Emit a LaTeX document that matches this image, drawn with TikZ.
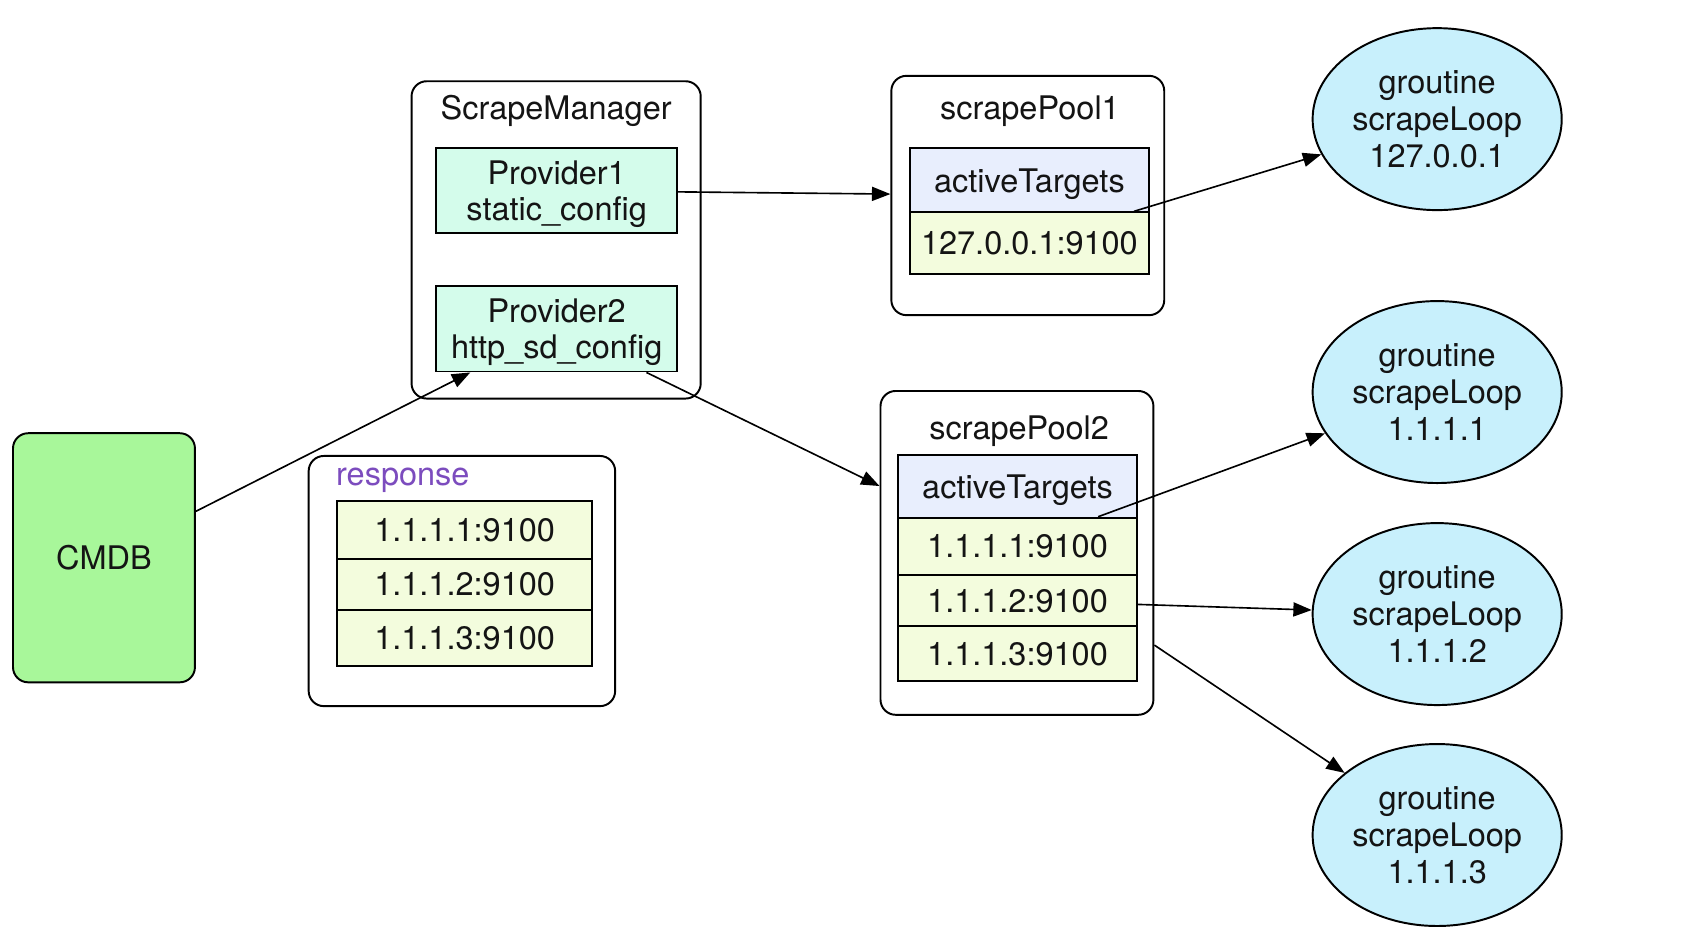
\documentclass[tikz,border=0pt]{standalone}
\usepackage{fontspec}
\setmainfont{TeX Gyre Heros}
\usetikzlibrary{arrows.meta,shapes.geometric}
\definecolor{cmdbgreen}{RGB}{168,247,154}
\definecolor{provfill}{RGB}{212,252,235}
\definecolor{atfill}{RGB}{232,238,253}
\definecolor{ipfill}{RGB}{243,252,221}
\definecolor{ellfill}{RGB}{200,240,252}
\definecolor{resppurple}{RGB}{124,76,190}
\definecolor{txt}{RGB}{20,20,20}
\tikzset{
  every node/.style={font=\fontsize{15}{17}\selectfont, text=txt},
  container/.style={draw, line width=0.9pt, rounded corners=7pt, inner sep=0pt, fill=white},
  cmdbbox/.style={draw, line width=0.9pt, rounded corners=7pt, fill=cmdbgreen, inner sep=0pt, minimum width=84pt, minimum height=115pt},
  provbox/.style={draw, line width=0.9pt, fill=provfill, inner sep=0pt, minimum width=111pt, align=center, text depth=-2pt},
  atbox/.style={draw, line width=0.9pt, fill=atfill, inner sep=0pt, minimum width=110.5pt, text depth=-1.5pt},
  ipbox/.style={draw, line width=0.9pt, fill=ipfill, inner sep=0pt, text depth=-2pt},
  loopell/.style={ellipse, draw, line width=0.9pt, fill=ellfill, inner sep=0pt, minimum width=115pt, minimum height=84pt, align=center, text depth=-4pt},
  titletext/.style={anchor=base, inner sep=0pt},
  conn/.style={line width=0.75pt, -{Triangle[length=8.5pt,width=6.5pt]}}
}
\begin{document}
\begin{tikzpicture}[x=0.5pt,y=-0.5pt]
\useasboundingbox (0,0) rectangle (1566,862);

% CMDB
\node[cmdbbox] (cmdb) at (96,515) {CMDB};

% ScrapeManager
\node[container, minimum width=133.5pt, minimum height=146.5pt] (sm) at (513.5,221.5) {};
\node[titletext] (smt) at (513.5,110.5) {ScrapeManager};
\node[provbox, minimum height=39pt] (p1) at (514,176) {Provider1\\static\_config};
\node[provbox, minimum height=39.5pt] (p2) at (514,303.5) {Provider2\\http\_sd\_config};

% response
\node[container, minimum width=141.5pt, minimum height=115.5pt] (resp) at (426.5,536.5) {};
\node[anchor=base west, inner sep=0pt, text=resppurple] (respt) at (310,448) {response};
\node[ipbox, minimum width=118pt, minimum height=26.5pt] (q1) at (429,489.5) {1.1.1.1:9100};
\node[ipbox, minimum width=118pt, minimum height=23.5pt] (q2) at (429,539.5) {1.1.1.2:9100};
\node[ipbox, minimum width=118pt, minimum height=26pt] (q3) at (429,589) {1.1.1.3:9100};

% scrapePool1
\node[container, minimum width=126pt, minimum height=110.5pt] (pool1) at (949,180.5) {};
\node[titletext] (pool1t) at (951,110.5) {scrapePool1};
\node[atbox, minimum height=29.5pt] (at1) at (950.5,166.5) {activeTargets};
\node[ipbox, minimum width=110.5pt, minimum height=28.5pt] (ip1) at (950.5,224.5) {127.0.0.1:9100};

% scrapePool2
\node[container, minimum width=126pt, minimum height=149.5pt] (pool2) at (939,510.5) {};
\node[titletext] (pool2t) at (941,405.5) {scrapePool2};
\node[atbox, minimum height=29pt] (at2) at (939.5,449) {activeTargets};
\node[ipbox, minimum width=110.5pt, minimum height=26.5pt] (r21) at (939.5,504.5) {1.1.1.1:9100};
\node[ipbox, minimum width=110.5pt, minimum height=23.5pt] (r22) at (939.5,554.5) {1.1.1.2:9100};
\node[ipbox, minimum width=110.5pt, minimum height=25.5pt] (r23) at (939.5,603.5) {1.1.1.3:9100};

% goroutines
\node[loopell] (e1) at (1327,110) {groutine\\scrapeLoop\\127.0.0.1};
\node[loopell] (e2) at (1327,362) {groutine\\scrapeLoop\\1.1.1.1};
\node[loopell] (e3) at (1327,567) {groutine\\scrapeLoop\\1.1.1.2};
\node[loopell] (e4) at (1327,771) {groutine\\scrapeLoop\\1.1.1.3};

% connectors
\draw[conn] (cmdb) -- (p2);
\draw[conn] (p1) -- (pool1);
\draw[conn] (p2) -- (pool2);
\draw[conn] (ip1) -- (e1);
\draw[conn] (r21) -- (e2);
\draw[conn] (r22) -- (e3);
\draw[conn] (pool2) -- (e4);
\end{tikzpicture}
\end{document}
